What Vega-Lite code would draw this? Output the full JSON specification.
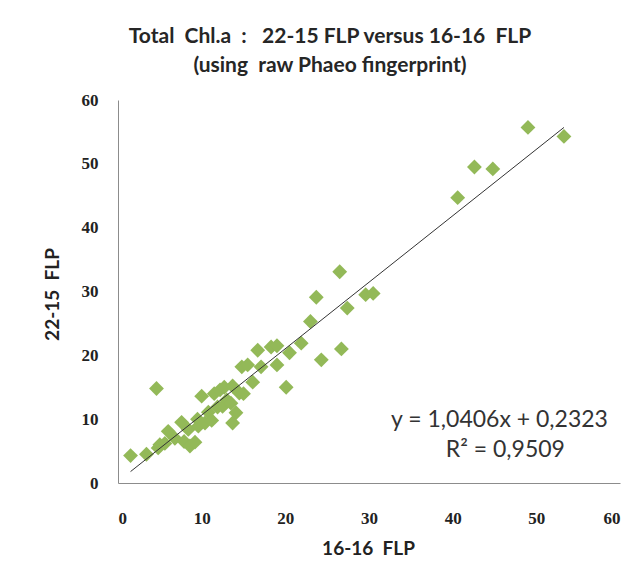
{
  "$schema": "https://vega.github.io/schema/vega-lite/v6.json",
  "width": 502,
  "height": 383,
  "autosize": "none",
  "padding": {"left": 118, "top": 100, "right": 18, "bottom": 79},
  "background": "white",
  "title": {
    "text": ["Total \u00a0Chl.a \u00a0: \u00a0 22-15 FLP versus 16-16 \u00a0FLP", "(using \u00a0raw Phaeo fingerprint)"],
    "font": "Lato",
    "fontSize": 21,
    "fontWeight": "bold",
    "color": "#262626",
    "anchor": "middle",
    "dx": -39,
    "offset": 15,
    "lineHeight": 29
  },
  "datasets": {
    "pts": [
      {"x": 1.5, "y": 4.3}, {"x": 3.4, "y": 4.5}, {"x": 4.6, "y": 14.8}, {"x": 4.8, "y": 5.5},
      {"x": 5.0, "y": 6.0}, {"x": 5.6, "y": 6.2}, {"x": 6.0, "y": 8.1}, {"x": 6.8, "y": 7.0},
      {"x": 7.6, "y": 9.5}, {"x": 7.9, "y": 6.5}, {"x": 8.4, "y": 8.4}, {"x": 8.6, "y": 5.8},
      {"x": 9.2, "y": 6.4}, {"x": 9.5, "y": 10.0}, {"x": 9.6, "y": 8.9}, {"x": 10.0, "y": 13.6},
      {"x": 10.4, "y": 9.4}, {"x": 10.8, "y": 11.1}, {"x": 11.2, "y": 9.8}, {"x": 11.5, "y": 14.0},
      {"x": 11.9, "y": 11.9}, {"x": 12.2, "y": 14.6}, {"x": 12.5, "y": 12.0}, {"x": 12.7, "y": 15.0},
      {"x": 13.0, "y": 13.0}, {"x": 13.5, "y": 12.5}, {"x": 13.7, "y": 9.4}, {"x": 13.7, "y": 15.2},
      {"x": 14.1, "y": 11.0}, {"x": 14.5, "y": 14.1}, {"x": 15.0, "y": 14.0}, {"x": 14.8, "y": 18.2},
      {"x": 15.5, "y": 18.5}, {"x": 16.1, "y": 15.8}, {"x": 16.7, "y": 20.8}, {"x": 17.1, "y": 18.2},
      {"x": 18.3, "y": 21.3}, {"x": 19.0, "y": 21.5}, {"x": 19.0, "y": 18.5}, {"x": 20.1, "y": 15.0},
      {"x": 20.5, "y": 20.4}, {"x": 21.9, "y": 21.9}, {"x": 23.0, "y": 25.3}, {"x": 23.7, "y": 29.1},
      {"x": 24.3, "y": 19.3}, {"x": 26.5, "y": 33.1}, {"x": 26.7, "y": 21.0}, {"x": 27.4, "y": 27.4},
      {"x": 29.6, "y": 29.5}, {"x": 30.5, "y": 29.7}, {"x": 40.6, "y": 44.7}, {"x": 42.6, "y": 49.5},
      {"x": 44.8, "y": 49.2}, {"x": 49.0, "y": 55.7}, {"x": 53.3, "y": 54.3}
    ],
    "trend": [{"x": 1.5, "y": 1.79}, {"x": 53.3, "y": 55.7}],
    "eq": [
      {"x": 45.6, "y": 9.9, "label": "y = 1,0406x + 0,2323"},
      {"x": 46.3, "y": 5.2, "label": "R² = 0,9509"}
    ]
  },
  "layer": [
    {
      "data": {"name": "pts"},
      "mark": {"type": "point", "shape": "diamond", "filled": true, "size": 220, "color": "#93b958", "opacity": 1},
      "encoding": {
        "x": {
          "field": "x", "type": "quantitative",
          "scale": {"domain": [0, 60], "nice": false, "zero": true},
          "axis": {
            "values": [0, 10, 20, 30, 40, 50, 60],
            "grid": false, "ticks": false,
            "domainColor": "#8c8c8c", "domainWidth": 1,
            "labelFont": "Liberation Serif", "labelFontWeight": "bold", "labelFontSize": 17,
            "labelColor": "#222222", "labelPadding": 27,
            "title": "16-16 \u00a0FLP",
            "titleFont": "Lato", "titleFontSize": 19, "titleFontWeight": "bold", "titleColor": "#222222",
            "titleX": 250, "titleY": 65, "titleBaseline": "middle"
          }
        },
        "y": {
          "field": "y", "type": "quantitative",
          "scale": {"domain": [0, 60], "nice": false, "zero": true},
          "axis": {
            "values": [0, 10, 20, 30, 40, 50, 60],
            "grid": false, "ticks": false,
            "domainColor": "#8c8c8c", "domainWidth": 1,
            "labelFont": "Liberation Serif", "labelFontWeight": "bold", "labelFontSize": 17,
            "labelColor": "#222222", "labelPadding": 20,
            "title": "22-15 \u00a0FLP",
            "titleFont": "Lato", "titleFontSize": 19, "titleFontWeight": "bold", "titleColor": "#222222",
            "titleX": -66, "titleY": 194, "titleBaseline": "middle", "titleAngle": -90
          }
        }
      }
    },
    {
      "data": {"name": "trend"},
      "mark": {"type": "line", "color": "#333333", "strokeWidth": 1},
      "encoding": {
        "x": {"field": "x", "type": "quantitative"},
        "y": {"field": "y", "type": "quantitative"}
      }
    },
    {
      "data": {"name": "eq"},
      "mark": {"type": "text", "font": "Lato", "fontSize": 23, "color": "#333333", "align": "center", "baseline": "middle"},
      "encoding": {
        "x": {"field": "x", "type": "quantitative"},
        "y": {"field": "y", "type": "quantitative"},
        "text": {"field": "label"}
      }
    }
  ],
  "config": {"view": {"stroke": null}}
}
